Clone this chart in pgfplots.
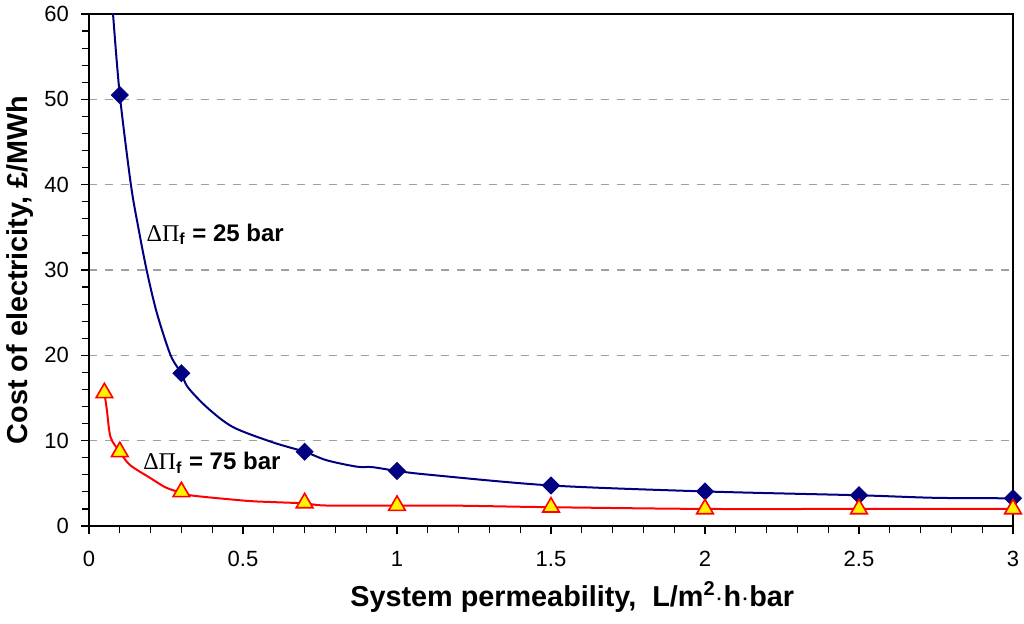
\documentclass[border=0pt]{standalone}
\usepackage{fontspec}
\setmainfont{Liberation Sans}
\newfontfamily\symfont{Liberation Serif}
\usepackage{pgfplots}
\pgfplotsset{compat=1.18}
\definecolor{navy}{RGB}{0,0,128}
\definecolor{gridgray}{RGB}{160,160,160}
\begin{document}
\begin{tikzpicture}
\begin{axis}[
  scale only axis,
  width=462pt, height=256pt,
  xmin=0, xmax=3, ymin=0, ymax=60,
  xtick={0,0.5,...,3}, ytick={0,10,...,60},
  minor x tick num=4, minor y tick num=4,
  xticklabels={0,0.5,1,1.5,2,2.5,3},
  tick align=outside, tick pos=left,
  major tick length=4pt, minor tick length=3.5pt,
  every tick/.style={black, line width=0.6pt},
  axis line style={line width=1.1pt},
  ymajorgrids,
  major grid style={gridgray, dash pattern=on 4pt off 4pt, line width=0.6pt},
  /pgf/number format/assume math mode=true,
  tick label style={font=\fontsize{11pt}{13pt}\selectfont},
  xticklabel style={yshift=-5pt},
  yticklabel style={xshift=-2.5pt},
  xlabel={\bfseries System permeability,\ \ L/m\textsuperscript{2}$\cdot$h$\cdot$bar},
  ylabel={\bfseries Cost of electricity, £/MWh},
  label style={font=\fontsize{14.4pt}{16pt}\selectfont},
  xlabel style={at={(axis description cs:0.523,-0.1387)}, anchor=center},
  ylabel style={at={(axis description cs:-0.0747,0.5)}, anchor=center},
  clip=true,
]
% blue line (smoothed path)
\addplot[navy, line width=1pt, smooth, tension=0.5] coordinates {
 (0.070,64.5) (0.078,60) (0.1,50.5) (0.136,40) (0.16,35) (0.187,30) (0.22,25)
 (0.265,20) (0.3,17.9) (0.32,16.3) (0.383,13.9) (0.467,11.6) (0.597,9.8)
 (0.7,8.7) (0.772,7.7) (0.87,6.95) (0.92,6.9) (1.0,6.45) (1.107,6.0)
 (1.5,4.75) (2,4.05) (2.5,3.6) (2.75,3.3) (3,3.25)
};
% blue markers
\addplot[only marks, mark=square*, mark size=3pt, mark options={navy, fill=navy, rotate=45}] coordinates {
 (0.1,50.5) (0.3,17.9) (0.7,8.7) (1,6.45) (1.5,4.75) (2,4.05) (2.5,3.6) (3,3.25)
};
% red line
\addplot[red, line width=1pt, smooth, tension=0.5] coordinates {
 (0.05,15.6) (0.058,13.6) (0.07,10.4) (0.1,8.7) (0.133,7.15) (0.2,5.6)
 (0.25,4.5) (0.3,3.9) (0.339,3.55) (0.512,2.95) (0.598,2.8) (0.7,2.65)
 (0.77,2.4) (1.0,2.4) (1.2,2.38) (1.5,2.2) (2,2.0) (2.5,2.0) (3,2.0)
};
% red markers
\addplot[only marks, mark=triangle*, mark size=4.8pt, mark options={draw=red, fill=yellow, line width=0.8pt}] coordinates {
 (0.05,15.6) (0.1,8.7) (0.3,4.0) (0.7,2.7) (1,2.4) (1.5,2.2) (2,2.0) (2.5,2.0) (3,2.0)
};
\node[anchor=west, font=\bfseries\fontsize{12pt}{14pt}\selectfont, inner sep=0pt] at (axis cs:0.186,34.2)
  {{\symfont\mdseries ΔΠ}\textsubscript{f} = 25 bar};
\node[anchor=west, font=\bfseries\fontsize{12pt}{14pt}\selectfont, inner sep=0pt] at (axis cs:0.175,7.4)
  {{\symfont\mdseries ΔΠ}\textsubscript{f} = 75 bar};
\coordinate (bbll) at (axis cs:-0.2890,-11.37);
\coordinate (bbur) at (axis cs:3.0357,61.64);
\end{axis}
\pgfresetboundingbox
\path (bbll) rectangle (bbur);
\end{tikzpicture}
\end{document}
